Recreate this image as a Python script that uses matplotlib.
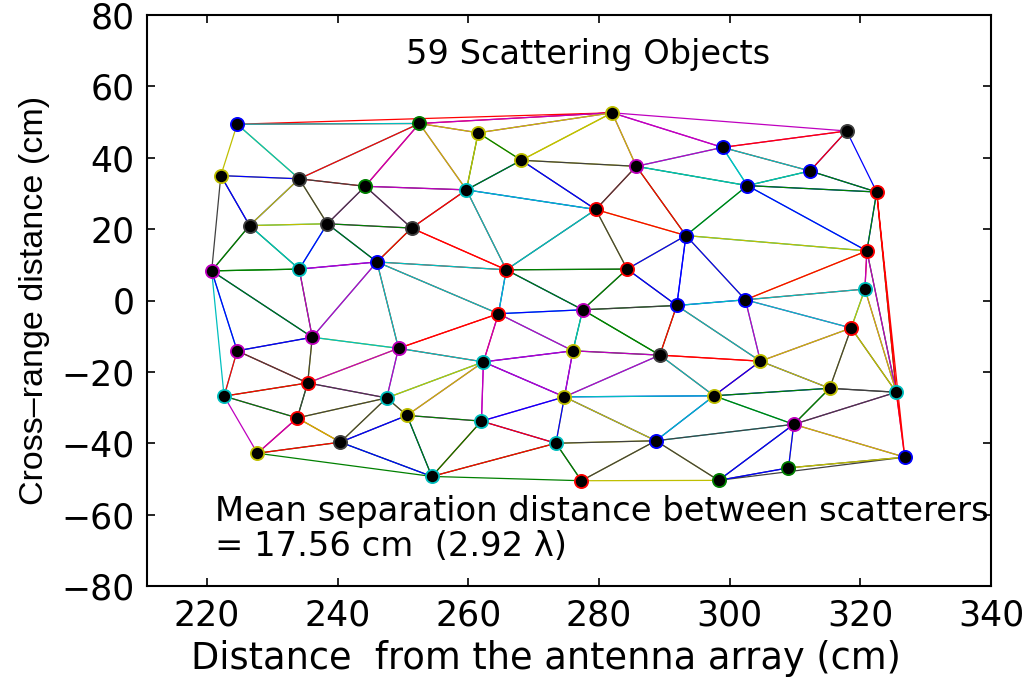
import numpy as np
import matplotlib
matplotlib.use("Agg")
import matplotlib.pyplot as plt
import matplotlib.tri as mtri

# Scatterer positions (cm): range distance from antenna array, cross-range distance
x_cm = [224.6, 252.5, 261.5, 282.0, 298.9, 317.9, 312.3, 322.5, 222.1, 234.1,
        244.2, 259.7, 268.1, 285.7, 302.7, 226.5, 238.4, 251.3, 279.5, 293.3,
        321.0, 220.7, 234.1, 246.0, 265.8, 284.3, 320.7, 302.4, 291.9, 264.6,
        277.5, 236.1, 224.6, 249.3, 276.0, 289.3, 304.7, 318.6, 262.3, 235.4,
        222.6, 247.5, 233.8, 250.6, 274.7, 262.0, 297.6, 315.3, 325.5, 240.4,
        227.7, 273.4, 288.7, 309.8, 254.4, 277.3, 298.3, 309.0, 326.8]
y_cm = [49.4, 49.6, 47.0, 52.6, 42.9, 47.5, 36.3, 30.4, 35.0, 34.1,
        32.0, 31.0, 39.3, 37.6, 32.2, 21.0, 21.5, 20.3, 25.5, 18.2,
        13.9, 8.3, 8.8, 10.8, 8.6, 8.8, 3.2, 0.2, -1.4, -3.7,
        -2.6, -10.3, -14.1, -13.4, -14.1, -15.3, -17.0, -7.7, -17.2, -23.1,
        -26.8, -27.3, -32.9, -32.2, -27.0, -33.8, -26.7, -24.6, -25.7, -39.7,
        -42.8, -40.0, -39.3, -34.7, -49.3, -50.5, -50.4, -46.9, -43.9]
# marker outline colour index into the colour order (b, g, r, c, m, y, k)
marker_cidx = [0, 1, 5, 5, 0, 6, 0, 2, 5, 6,
               1, 3, 5, 4, 0, 6, 6, 6, 2, 0,
               2, 4, 3, 0, 2, 2, 3, 0, 0, 2,
               4, 4, 4, 4, 5, 6, 5, 2, 3, 2,
               3, 3, 2, 5, 5, 3, 5, 5, 3, 6,
               5, 3, 0, 4, 3, 2, 1, 1, 0]

title_text = "59 Scattering Objects"
note_line1 = "Mean separation distance between scatterers"
note_line2 = "= 17.56 cm  (2.92 \u03bb)"
x_label = "Distance  from the antenna array (cm)"
y_label = "Cross\u2013range distance (cm)"
x_ticks = [220, 240, 260, 280, 300, 320, 340]
y_ticks = [-80, -60, -40, -20, 0, 20, 40, 60, 80]

color_order = [(0, 0, 1), (0, 0.5, 0), (1, 0, 0), (0, 0.75, 0.75),
               (0.75, 0, 0.75), (0.75, 0.75, 0), (0.25, 0.25, 0.25)]

plt.rcParams['font.family'] = ['DejaVu Sans']

fig = plt.figure(figsize=(10.34, 6.79), dpi=100)
ax = fig.add_axes([147 / 1034, 1 - 586 / 679, (991 - 147) / 1034, (586 - 15) / 679])

x = np.array(x_cm)
y = np.array(y_cm)
tri = mtri.Triangulation(x, y)
for k, t in enumerate(tri.triangles):
    idx = list(t) + [t[0]]
    ax.plot(x[idx], y[idx], color=color_order[k % 7], lw=0.9, zorder=2)

for xi, yi, ci in zip(x, y, marker_cidx):
    ax.plot(xi, yi, 'o', mfc='k', mec=color_order[ci], ms=9.5, mew=1.3, zorder=3)

ax.set_xlim(210.8, 340)
ax.set_ylim(-80, 80)
ax.set_xticks(x_ticks)
ax.set_yticks(y_ticks)
ax.set_yticklabels([str(v).replace('-', '\u2212') for v in y_ticks])
ax.tick_params(direction='in', top=True, right=True, length=6, width=1.2)
ax.tick_params(axis='x', labelsize=25, pad=9)
ax.tick_params(axis='y', labelsize=25, pad=9)
for s in ax.spines.values():
    s.set_linewidth(1.5)

ax.text(278.3, 66.3, title_text, ha='center', va='baseline', fontsize=24.2)
ax.text(221.2, -61.9, note_line1, ha='left', va='baseline', fontsize=24.3)
ax.text(221.2, -71.7, note_line2, ha='left', va='baseline', fontsize=24.3)

ax.set_xlabel(x_label, fontsize=26.5, va='top')
ax.xaxis.set_label_coords((546 - 147) / 844, -(640 - 586) / 571)
ax.set_ylabel(y_label, fontsize=24.5, family=['Liberation Sans', 'DejaVu Sans'])
ax.yaxis.set_label_coords(-(147 - 50) / 844, 0.5)

fig.savefig("out.png", dpi=100)
